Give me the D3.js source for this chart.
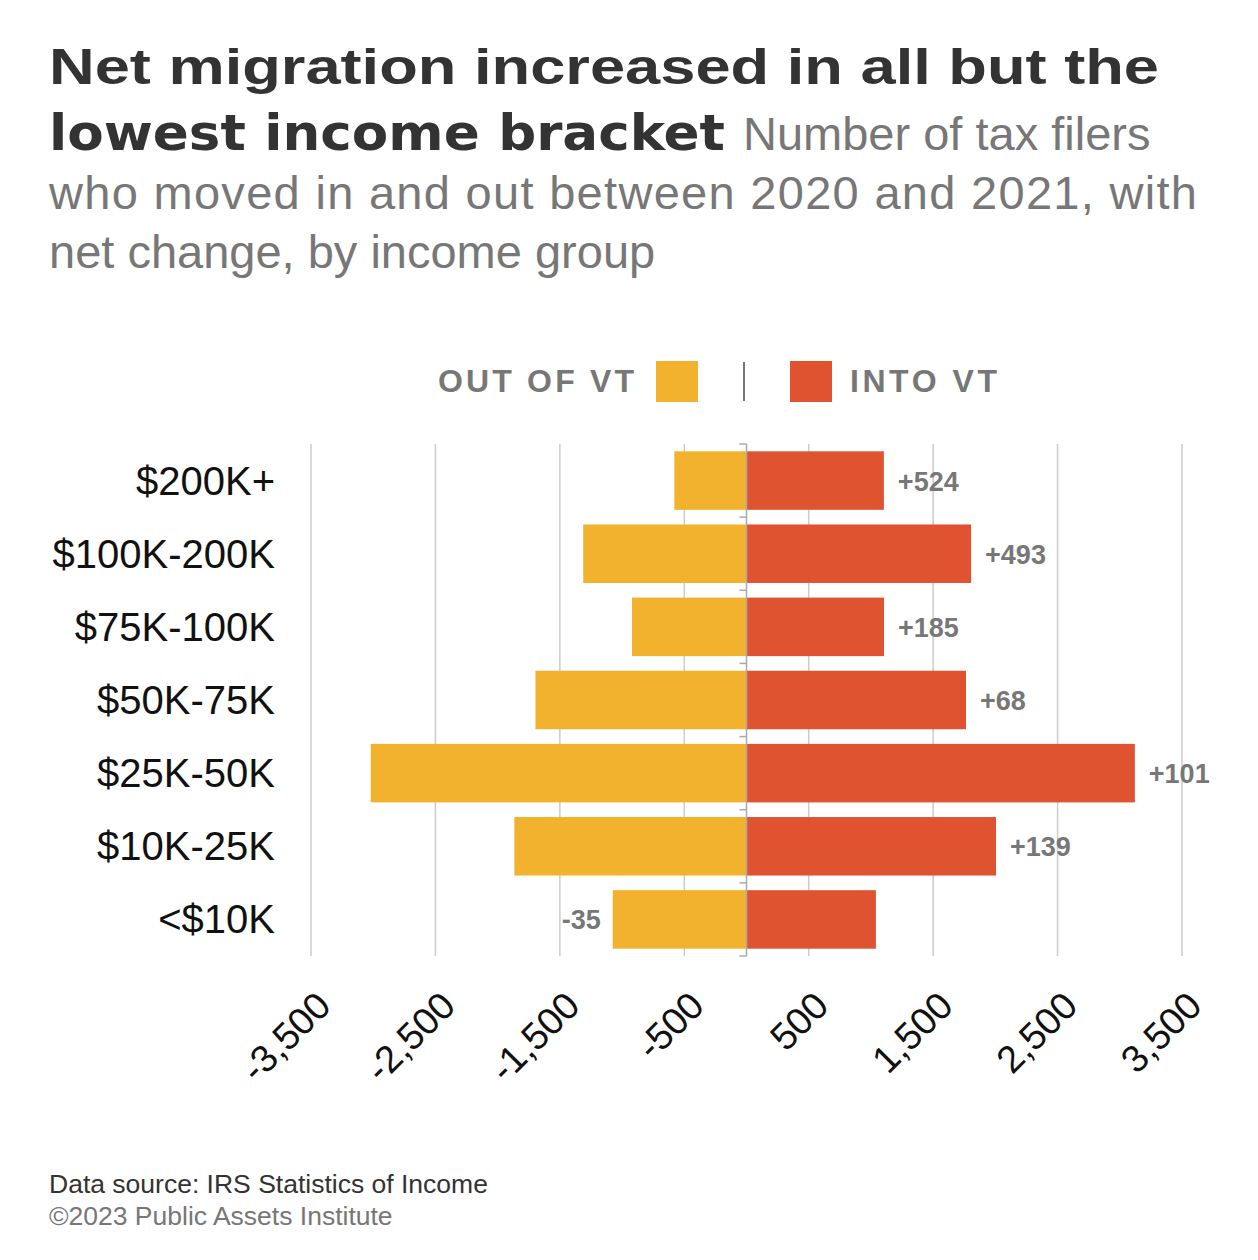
<!DOCTYPE html>
<html lang="en">
<head>
<meta charset="UTF-8">
<title>Net migration by income bracket</title>
<script src="https://d3js.org/d3.v7.min.js"></script>
<style>
  body { margin: 0; background: #fff; }
  text { font-family: "Liberation Sans", Arial, sans-serif; }
</style>
</head>
<body>
<svg id="chart" width="1258" height="1260"></svg>
<script>
// data
const groups = ["$200K+", "$100K-200K", "$75K-100K", "$50K-75K", "$25K-50K", "$10K-25K", "<$10K"];
const outOfVT = [580, 1312, 920, 1696, 3020, 1866, 1075];
const intoVT = [1104, 1805, 1105, 1764, 3121, 2005, 1040];
const netLabels = ["+524", "+493", "+185", "+68", "+101", "+139", "-35"];
const ticks = [-3500, -2500, -1500, -500, 500, 1500, 2500, 3500];

const svg = d3.select("#chart");
const orange = "#F2B22E", red = "#E05331", grey = "#777";
const heavy = "'DejaVu Sans', sans-serif";

// title + subtitle
svg.append("text").attr("x", 49).attr("y", 84).attr("font-size", 50).attr("font-weight", "bold")
  .attr("font-family", heavy).attr("fill", "#333")
  .attr("textLength", 1110).attr("lengthAdjust", "spacingAndGlyphs").text("Net migration increased in all but the");
const l2 = svg.append("text").attr("y", 150);
l2.append("tspan").attr("x", 49).attr("font-size", 50).attr("font-weight", "bold").attr("font-family", heavy).attr("fill", "#333")
  .attr("textLength", 676).attr("lengthAdjust", "spacingAndGlyphs").text("lowest income bracket");
l2.append("tspan").attr("dx", 18).attr("font-size", 47).attr("fill", grey).text("Number of tax filers");
svg.append("text").attr("x", 49).attr("y", 209).attr("font-size", 47).attr("fill", grey)
  .attr("textLength", 1148).text("who moved in and out between 2020 and 2021, with");
svg.append("text").attr("x", 49).attr("y", 268).attr("font-size", 47).attr("fill", grey)
  .text("net change, by income group");

// legend
svg.append("text").attr("x", 634).attr("y", 392).attr("text-anchor", "end").attr("font-size", 32)
  .attr("font-weight", "bold").attr("font-family", heavy).attr("fill", grey).attr("textLength", 196).text("OUT OF VT");
svg.append("rect").attr("x", 656).attr("y", 361).attr("width", 42).attr("height", 41).attr("fill", orange);
svg.append("line").attr("x1", 744).attr("x2", 744).attr("y1", 362).attr("y2", 401).attr("stroke", grey).attr("stroke-width", 2);
svg.append("rect").attr("x", 790).attr("y", 361).attr("width", 42).attr("height", 41).attr("fill", red);
svg.append("text").attr("x", 850).attr("y", 392).attr("font-size", 32)
  .attr("font-weight", "bold").attr("font-family", heavy).attr("fill", grey).attr("textLength", 147).text("INTO VT");

// scales
const x = d3.scaleLinear().domain([-3500, 3500]).range([311, 1182]);
const y = d3.scaleBand().domain(groups).range([444, 956]).paddingInner(0.2).paddingOuter(0.1);

// gridlines
svg.append("g").selectAll("line").data(ticks).join("line")
  .attr("x1", d => x(d)).attr("x2", d => x(d)).attr("y1", 444).attr("y2", 956)
  .attr("stroke", "#ccc").attr("stroke-width", 1.5);

// bars
svg.append("g").selectAll("rect").data(groups).join("rect")
  .attr("x", (d, i) => x(-outOfVT[i])).attr("y", d => y(d))
  .attr("width", (d, i) => x(0) - x(-outOfVT[i])).attr("height", y.bandwidth()).attr("fill", orange);
svg.append("g").selectAll("rect").data(groups).join("rect")
  .attr("x", x(0)).attr("y", d => y(d))
  .attr("width", (d, i) => x(intoVT[i]) - x(0)).attr("height", y.bandwidth()).attr("fill", red);

// centre axis with band ticks
const step = y.step();
svg.append("line").attr("x1", x(0)).attr("x2", x(0)).attr("y1", 444).attr("y2", 956).attr("stroke", "#aaa").attr("stroke-width", 1.5);
svg.append("g").selectAll("line").data(d3.range(groups.length + 1)).join("line")
  .attr("x1", x(0) - 7).attr("x2", x(0))
  .attr("y1", i => y(groups[0]) - y.paddingInner() * step / 2 + i * step)
  .attr("y2", i => y(groups[0]) - y.paddingInner() * step / 2 + i * step)
  .attr("stroke", "#aaa").attr("stroke-width", 1.5);

// category labels
svg.append("g").selectAll("text").data(groups).join("text")
  .attr("x", 275).attr("y", d => y(d) + y.bandwidth() / 2 + 14)
  .attr("text-anchor", "end").attr("font-size", 40).attr("fill", "#111").text(d => d);

// net labels
svg.append("g").selectAll("text").data(groups).join("text")
  .attr("x", (d, i) => netLabels[i].startsWith("-") ? x(-outOfVT[i]) - 12 : x(intoVT[i]) + 14)
  .attr("y", d => y(d) + y.bandwidth() / 2 + 10)
  .attr("text-anchor", (d, i) => netLabels[i].startsWith("-") ? "end" : "start")
  .attr("font-size", 27).attr("font-weight", "bold").attr("font-family", heavy).attr("fill", grey).text((d, i) => netLabels[i]);

// x tick labels, rotated
svg.append("g").selectAll("text").data(ticks).join("text")
  .attr("transform", d => `translate(${x(d) + 22},${1008}) rotate(-45)`)
  .attr("text-anchor", "end").attr("font-size", 38).attr("fill", "#111")
  .text(d => d3.format(",")(d).replace("−", "-"));

// footer
svg.append("text").attr("x", 49).attr("y", 1193).attr("font-size", 26.5).attr("fill", "#333").text("Data source: IRS Statistics of Income");
svg.append("text").attr("x", 49).attr("y", 1225).attr("font-size", 26.5).attr("fill", grey).text("©2023 Public Assets Institute");
</script>
</body>
</html>
